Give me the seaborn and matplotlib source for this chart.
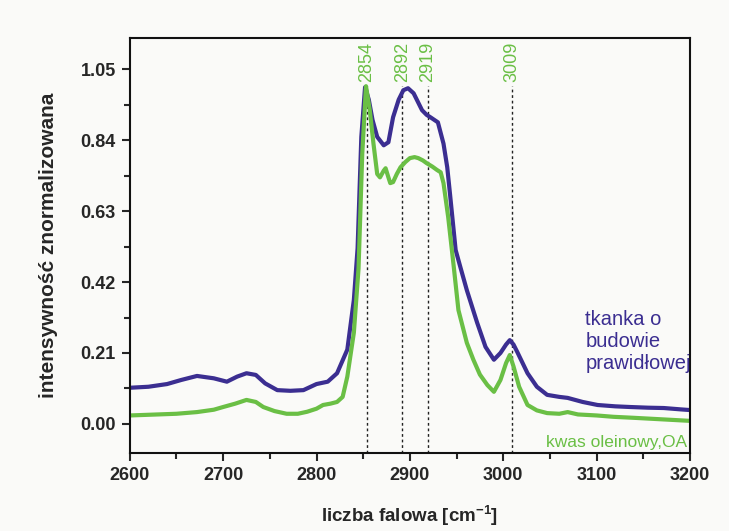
import numpy as np
import pandas as pd
import matplotlib
matplotlib.use("Agg")
import matplotlib.pyplot as plt
import seaborn as sns

# ---- data ----
blue_x = [2600, 2620, 2640, 2655, 2672, 2690, 2704, 2715, 2725, 2735, 2745, 2758, 2772, 2786,
          2800, 2812, 2822, 2833, 2840, 2844, 2848, 2852, 2856, 2860, 2865, 2872, 2877, 2882,
          2888, 2893, 2898, 2904, 2913, 2918, 2922, 2930, 2936, 2940, 2943, 2949, 2954, 2961,
          2972, 2981, 2990, 2997, 3003, 3007, 3011, 3015, 3026, 3036, 3047, 3060, 3069, 3085,
          3101, 3120, 3136, 3155, 3172, 3190, 3200]
blue_y = [0.107, 0.110, 0.118, 0.130, 0.142, 0.135, 0.125, 0.140, 0.150, 0.145, 0.120, 0.100,
          0.098, 0.100, 0.118, 0.125, 0.150, 0.220, 0.367, 0.520, 0.850, 0.997, 0.960, 0.900,
          0.850, 0.825, 0.834, 0.908, 0.960, 0.988, 0.994, 0.979, 0.929, 0.915, 0.908, 0.893,
          0.830, 0.760, 0.680, 0.515, 0.465, 0.396, 0.300, 0.228, 0.190, 0.210, 0.235, 0.248,
          0.235, 0.213, 0.150, 0.110, 0.086, 0.080, 0.077, 0.065, 0.056, 0.052, 0.050, 0.048,
          0.047, 0.043, 0.041]

green_x = [2600, 2630, 2650, 2672, 2690, 2700, 2713, 2725, 2735, 2743, 2755, 2768, 2780, 2790,
           2800, 2807, 2815, 2822, 2828, 2833, 2840, 2845, 2849, 2853, 2857, 2861, 2865, 2868,
           2872, 2874, 2877, 2879, 2882, 2886, 2890, 2895, 2900, 2905, 2909, 2914, 2918, 2924,
           2929, 2933, 2936, 2941, 2947, 2952, 2961, 2968, 2975, 2983, 2990, 2997, 3003, 3007,
           3011, 3017, 3026, 3036, 3047, 3060, 3069, 3080, 3100, 3118, 3140, 3160, 3180, 3200]
green_y = [0.025, 0.028, 0.030, 0.035, 0.042, 0.050, 0.060, 0.071, 0.065, 0.050, 0.038, 0.030,
           0.030, 0.036, 0.045, 0.056, 0.060, 0.065, 0.080, 0.140, 0.270, 0.460, 0.800, 1.000,
           0.930, 0.830, 0.740, 0.730, 0.750, 0.757, 0.730, 0.713, 0.716, 0.740, 0.760, 0.775,
           0.787, 0.790, 0.787, 0.780, 0.772, 0.762, 0.752, 0.745, 0.713, 0.613, 0.465, 0.337,
           0.240, 0.190, 0.146, 0.115, 0.095, 0.130, 0.180, 0.204, 0.170, 0.110, 0.056, 0.040,
           0.032, 0.030, 0.035, 0.028, 0.025, 0.021, 0.018, 0.015, 0.012, 0.009]

peak_positions = [2854, 2892, 2919, 3009]
peak_labels = ["2854", "2892", "2919", "3009"]
y_ticks = [0.00, 0.21, 0.42, 0.63, 0.84, 1.05]
x_ticks = [2600, 2700, 2800, 2900, 3000, 3100, 3200]

BLUE = "#3b2e91"
GREEN = "#6abf45"

sns.set_style("ticks")
plt.rcParams["font.family"] = ["Liberation Sans", "DejaVu Sans"]

df = pd.concat([
    pd.DataFrame({"x": blue_x, "y": blue_y, "s": "tkanka"}),
    pd.DataFrame({"x": green_x, "y": green_y, "s": "OA"}),
])

fig = plt.figure(figsize=(7.29, 5.31), dpi=100, facecolor="#fafaf8")
ax = fig.add_axes([0.178, 0.147, 0.7685, 0.781])
ax.set_facecolor("#fafaf8")

sns.lineplot(data=df, x="x", y="y", hue="s", palette={"tkanka": BLUE, "OA": GREEN},
             linewidth=3, ax=ax, legend=False, sort=False)

YLO, YHI = -0.086, 1.142
for p, lab in zip(peak_positions, peak_labels):
    ax.vlines(p, YLO, 1.0, colors="#222222", linestyles=(0, (2, 2)), linewidth=1.0, zorder=1)
    ax.text(p, 1.012, lab, rotation=90, ha="center", va="bottom", color=GREEN, fontsize=13)

ax.set_xlim(2600, 3200)
ax.set_ylim(YLO, YHI)
ax.set_xticks(x_ticks)
ax.set_xticks(np.arange(2650, 3200, 100), minor=True)
ax.set_yticks(y_ticks)
ax.set_yticks([0.105, 0.315, 0.525, 0.735, 0.945], minor=True)
ax.set_yticklabels([f"{v:.2f}" for v in y_ticks])
ax.tick_params(axis="both", which="major", direction="out", length=6, width=1.5,
               labelsize=13, pad=4)
ax.tick_params(axis="both", which="minor", direction="out", length=4, width=1.5)
for lab in ax.get_xticklabels() + ax.get_yticklabels():
    lab.set_fontweight("bold")
for sp in ax.spines.values():
    sp.set_linewidth(1.5)
    sp.set_color("#111111")
    sp.set_visible(True)

ax.set_xlabel("liczba falowa [cm$^{\\mathregular{-1}}$]", fontsize=13.5, fontweight="bold", labelpad=14)
ax.set_ylabel("intensywność znormalizowana", fontsize=15, fontweight="bold", labelpad=16)

ax.text(3088, 0.243, "tkanka o\nbudowie\nprawidłowej", color=BLUE, fontsize=14.5,
        ha="left", va="center", multialignment="left", linespacing=1.2)
ax.text(3197, -0.055, "kwas oleinowy,OA", color=GREEN, fontsize=12.5, ha="right", va="center")

fig.savefig("out.png", dpi=100, facecolor=fig.get_facecolor())
